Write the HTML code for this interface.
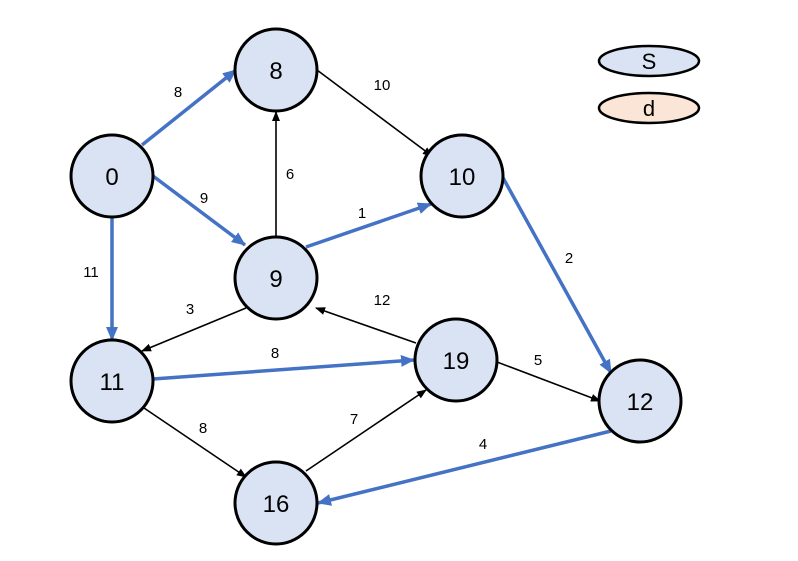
<!DOCTYPE html>
<html><head><meta charset="utf-8"><style>
html,body{margin:0;padding:0;background:#fff;}
svg{display:block;}
text{font-family:"Liberation Sans","Noto Sans CJK KR",sans-serif;}
</style></head><body>
<svg width="798" height="561" viewBox="0 0 798 561" xmlns="http://www.w3.org/2000/svg">
<defs>
<marker id="ab" markerWidth="10" markerHeight="10" refX="9" refY="5" orient="auto" markerUnits="userSpaceOnUse">
<path d="M0,1 L10,5 L0,9 Z" fill="#000"/></marker>
<marker id="bb" markerWidth="14" markerHeight="12" refX="13" refY="6" orient="auto" markerUnits="userSpaceOnUse">
<path d="M0,0 L14,6 L0,12 Z" fill="#4472c4"/></marker>
</defs>
<g stroke="#000" stroke-width="1.6" fill="none" marker-end="url(#ab)">
<line x1="276" y1="237" x2="276" y2="112"/>
<line x1="317" y1="70" x2="432" y2="156"/>
<line x1="246" y1="308" x2="142" y2="351"/>
<line x1="416" y1="343" x2="316" y2="308"/>
<line x1="497" y1="362" x2="600" y2="401"/>
<line x1="144" y1="408" x2="246" y2="477"/>
<line x1="306" y1="471" x2="426" y2="390"/>
</g>
<g stroke="#4472c4" stroke-width="3.5" fill="none" marker-end="url(#bb)">
<line x1="142" y1="145" x2="236" y2="70"/>
<line x1="153" y1="176" x2="245" y2="245"/>
<line x1="112" y1="217" x2="112" y2="340"/>
<line x1="306" y1="247" x2="431" y2="204"/>
<line x1="502" y1="176" x2="611" y2="373"/>
<line x1="153" y1="379" x2="414" y2="360"/>
<line x1="611" y1="431" x2="318" y2="503"/>
</g>
<g fill="#dae3f3" stroke="#000" stroke-width="3">
<circle cx="112" cy="176" r="41"/>
<circle cx="276" cy="70" r="41"/>
<circle cx="462" cy="176" r="41"/>
<circle cx="276" cy="278" r="41"/>
<circle cx="112" cy="381" r="41"/>
<circle cx="456" cy="360" r="41"/>
<circle cx="640" cy="401" r="41"/>
<circle cx="276" cy="503" r="41"/>
</g>
<ellipse cx="649" cy="61" rx="50" ry="15" fill="#dae3f3" stroke="#000" stroke-width="2.5"/>
<ellipse cx="649" cy="108" rx="50" ry="15" fill="#fbe5d6" stroke="#000" stroke-width="2.5"/>
<g font-size="24" text-anchor="middle" fill="#000">
<text x="112" y="185">0</text>
<text x="276" y="79">8</text>
<text x="462" y="185">10</text>
<text x="276" y="287">9</text>
<text x="112" y="390">11</text>
<text x="456" y="369">19</text>
<text x="640" y="410">12</text>
<text x="276" y="512">16</text>
<text x="649" y="69" font-size="22">S</text>
<text x="649" y="116" font-size="22">d</text>
</g>
<g font-size="15" text-anchor="middle" fill="#000">
<text x="178" y="97">8</text>
<text x="204" y="203">9</text>
<text x="91" y="277">11</text>
<text x="290" y="179">6</text>
<text x="382" y="90">10</text>
<text x="362" y="218">1</text>
<text x="569" y="263">2</text>
<text x="190" y="314">3</text>
<text x="382" y="305">12</text>
<text x="275" y="358">8</text>
<text x="538" y="365">5</text>
<text x="203" y="433">8</text>
<text x="354" y="424">7</text>
<text x="483" y="449">4</text>
</g>
</svg>
</body></html>
